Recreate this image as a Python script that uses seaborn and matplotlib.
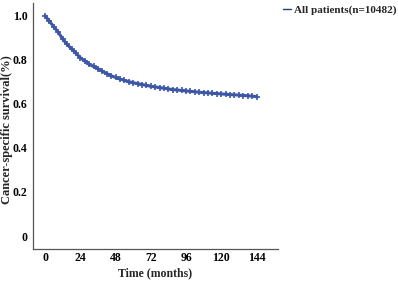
import numpy as np
import pandas as pd
import matplotlib.pyplot as plt
import seaborn as sns

months = [0, 3, 6, 9, 12, 15, 18, 21, 24, 27, 30, 33, 36, 39, 42, 45, 48,
          51, 54, 57, 60, 63, 66, 69, 72, 75, 78, 81, 84, 87, 90, 93, 96,
          99, 102, 105, 108, 111, 114, 117, 120, 123, 126, 129, 132, 135,
          138, 141, 144]
survival = [1.00, 0.975, 0.95, 0.925, 0.895, 0.87, 0.85, 0.83, 0.81, 0.795,
            0.78, 0.77, 0.76, 0.748, 0.738, 0.728, 0.72, 0.713, 0.707, 0.701,
            0.696, 0.692, 0.688, 0.684, 0.68, 0.677, 0.674, 0.671, 0.668,
            0.665, 0.663, 0.661, 0.659, 0.657, 0.655, 0.653, 0.651, 0.65,
            0.648, 0.647, 0.645, 0.644, 0.642, 0.641, 0.64, 0.638, 0.637,
            0.635, 0.633]
group = "All patients(n=10482)"
xticks = [0, 24, 48, 72, 96, 120, 144]
yticks = [0, 0.2, 0.4, 0.6, 0.8, 1.0]
ylabels = ["0", "0.2", "0.4", "0.6", "0.8", "1.0"]

df = pd.DataFrame({"month": months, "surv": survival, "group": group})

sns.set_style("white")
plt.rcParams["font.family"] = ["Liberation Serif", "DejaVu Serif"]
plt.rcParams["font.weight"] = "bold"

blue = "#3d57a7"
fig = plt.figure(figsize=(3.98, 2.82), dpi=100)
ax = fig.add_axes([0.083, 0.117, 0.615, 0.873])

sns.lineplot(data=df, x="month", y="surv", hue="group", palette=[blue],
             marker="+", markersize=4, markeredgewidth=1.2,
             markeredgecolor=blue, linewidth=2.2, ax=ax, legend=False)

ax.set_xlim(-8.2, 158.5)
ax.set_ylim(-0.059, 1.059)
ax.set_xticks(xticks)
ax.set_yticks(yticks)
ax.set_yticklabels(ylabels)
ax.tick_params(direction="in", length=3, width=0.8, labelsize=8.5, pad=4,
               colors="#444444", labelcolor="black")
ax.tick_params(axis="x", pad=2.5)
for lab in ax.get_xticklabels() + ax.get_yticklabels():
    lab.set_fontweight("bold")
sns.despine(ax=ax)
for s in ["left", "bottom"]:
    ax.spines[s].set_color("#555555")
    ax.spines[s].set_linewidth(0.9)

ax.set_xlabel("Time (months)", fontsize=8.5, fontweight="bold")
ax.set_ylabel("Cancer-specific survival(%)", fontsize=9, fontweight="bold")
ax.yaxis.set_label_coords(-0.08, 0.484)
ax.xaxis.set_label_coords(0.5, -0.075)

h = plt.Line2D([], [], color="#2b3b7a", linewidth=1.0)
fig.legend([h], [group], loc="upper left", bbox_to_anchor=(0.695, 1.007),
           frameon=False, handlelength=0.7, handletextpad=0.3,
           borderaxespad=0.2, prop={"weight": "bold", "size": 8})

fig.savefig("out.png", dpi=100)
